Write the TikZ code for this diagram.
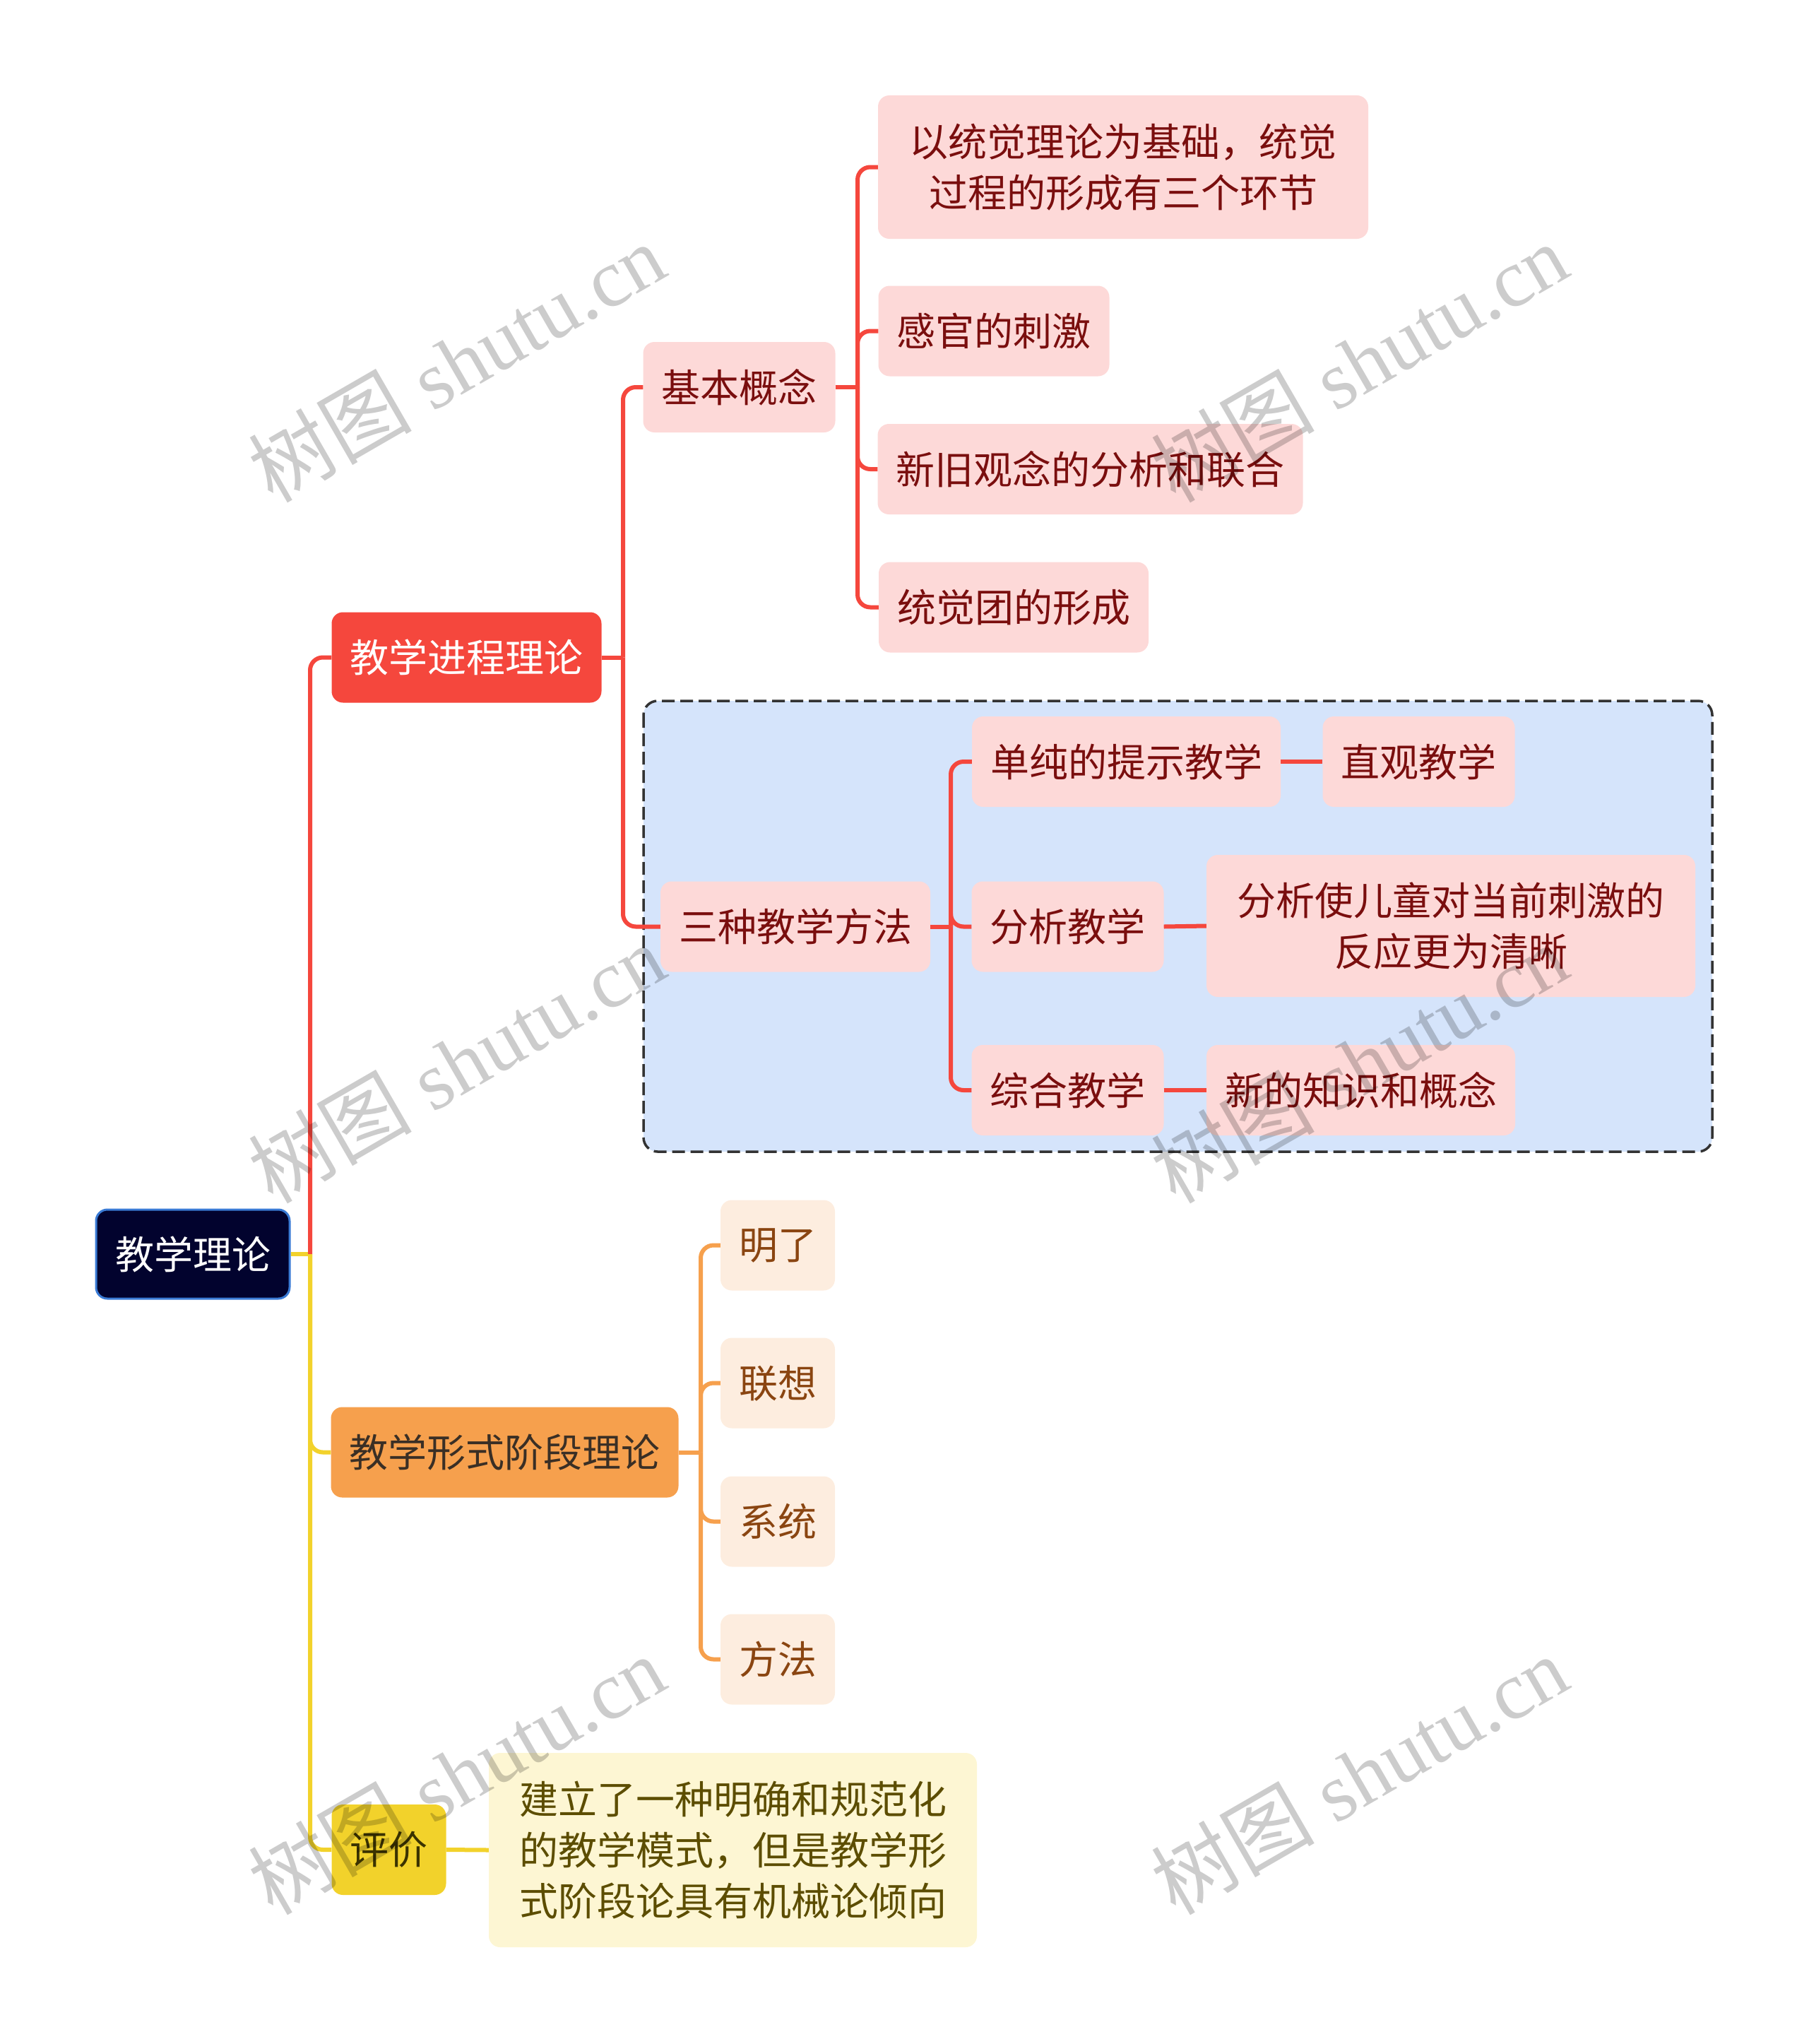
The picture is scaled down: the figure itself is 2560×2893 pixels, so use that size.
\documentclass[tikz,border=0pt]{standalone}
\usepackage{fontspec}
\setmainfont{Noto Sans CJK SC}
\newfontfamily\wmserif{Liberation Serif}
\definecolor{mainred}{HTML}{F5473D}
\definecolor{pinkfill}{HTML}{FDD9D8}
\definecolor{darkred}{HTML}{7A0E0E}
\definecolor{bluefill}{HTML}{D5E4FB}
\definecolor{rootfill}{HTML}{02032E}
\definecolor{rootedge}{HTML}{3A7BD5}
\definecolor{orangemain}{HTML}{F6A04D}
\definecolor{orangetext}{HTML}{3A2F25}
\definecolor{peachfill}{HTML}{FDEDDF}
\definecolor{browntext}{HTML}{8A4511}
\definecolor{yellowmain}{HTML}{F2D22B}
\definecolor{creamfill}{HTML}{FDF6D3}
\definecolor{olivetext}{HTML}{5C4D00}
\definecolor{darkolive}{HTML}{3B3300}
\newcommand{\nodefs}{\fontsize{55pt}{72pt}\selectfont}
\tikzset{
  basebox/.style={rounded corners=16pt, inner xsep=26pt, inner ysep=0pt,
    minimum height=128pt, font=\nodefs, align=center},
  pinkbox/.style={basebox, fill=pinkfill, text=darkred},
  peachbox/.style={basebox, fill=peachfill, text=browntext},
  rl/.style={draw=mainred, line width=6pt, rounded corners=18pt},
  ol/.style={draw=orangemain, line width=6pt, rounded corners=18pt},
  yl/.style={draw=yellowmain, line width=6pt, rounded corners=18pt},
  wm/.style={text=black, text opacity=0.2, font=\fontsize{116pt}{124pt}\selectfont, rotate=30, inner sep=0pt}
}
\begin{document}
\begin{tikzpicture}[x=1pt,y=-1pt]
\useasboundingbox (0,0) rectangle (2560,2893);

% dashed group box
\draw[fill=bluefill, draw=black!80, line width=3.5pt, dash pattern=on 18pt off 8pt, rounded corners=20pt]
  (911,992) rectangle (2424,1630);

% nodes
\node[basebox, fill=rootfill, draw=rootedge, line width=3pt, text=white, minimum width=274pt, minimum height=126pt] (root) at (273,1775) {教学理论};

\node[basebox, fill=mainred, text=white] (jc) at (660.5,930.5) {教学进程理论};
\node[pinkbox] (jb) at (1046.5,548) {基本概念};
\node[pinkbox, minimum width=694pt, minimum height=203pt] (a1) at (1590,236.5) {以统觉理论为基础，统觉\\过程的形成有三个环节};
\node[pinkbox] (a2) at (1407,468.5) {感官的刺激};
\node[pinkbox] (a3) at (1543.5,664) {新旧观念的分析和联合};
\node[pinkbox] (a4) at (1435,859.5) {统觉团的形成};

\node[pinkbox] (sz) at (1126,1311.5) {三种教学方法};
\node[pinkbox] (m1) at (1594.5,1078) {单纯的提示教学};
\node[pinkbox] (m1a) at (2008.5,1078) {直观教学};
\node[pinkbox] (m2) at (1511.5,1311.5) {分析教学};
\node[pinkbox, minimum width=692pt, minimum height=201pt] (m2a) at (2054,1310.5) {分析使儿童对当前刺激的\\反应更为清晰};
\node[pinkbox] (m3) at (1511.5,1543) {综合教学};
\node[pinkbox] (m3a) at (1926.5,1543) {新的知识和概念};

\node[basebox, fill=orangemain, text=orangetext] (xs) at (714.5,2055.5) {教学形式阶段理论};
\node[peachbox] (o1) at (1101,1762.5) {明了};
\node[peachbox] (o2) at (1101,1957.5) {联想};
\node[peachbox] (o3) at (1101,2153.5) {系统};
\node[peachbox] (o4) at (1101,2348.5) {方法};

\node[basebox, fill=yellowmain, text=darkolive] (pj) at (550.5,2618) {评价};
\node[basebox, fill=creamfill, text=olivetext, minimum width=691pt, minimum height=275pt] (pt) at (1037.5,2618.5)
  {建立了一种明确和规范化\\的教学模式，但是教学形\\式阶段论具有机械论倾向};

% connectors
\coordinate (s0) at (439,1775);
\draw[yl] (root.east) -- (s0);
\draw[rl] (s0) |- (jc.west);
\draw[yl] (s0) |- (xs.west);
\draw[yl] (s0) |- (pj.west);

\coordinate (s1) at (882,930.5);
\draw[rl] (jc.east) -- (s1);
\draw[rl] (s1) |- (jb.west);
\draw[rl] (s1) |- (sz.west);

\coordinate (s2) at (1214,548);
\draw[rl] (jb.east) -- (s2);
\foreach \c in {a1,a2,a3,a4} \draw[rl] (s2) |- (\c.west);

\coordinate (s3) at (1346,1311.5);
\draw[rl] (sz.east) -- (s3);
\foreach \c in {m1,m2,m3} \draw[rl] (s3) |- (\c.west);
\draw[rl] (m1.east) -- (m1a.west);
\draw[rl] (m2.east) -- (m2a.west);
\draw[rl] (m3.east) -- (m3a.west);

\coordinate (s4) at (992,2055.5);
\draw[ol] (xs.east) -- (s4);
\foreach \c in {o1,o2,o3,o4} \draw[ol] (s4) |- (\c.west);

\draw[yl] (pj.east) -- (pt.west);

% watermarks
\foreach \p/\n in {{(646,513)}/w1,{(1924,513)}/w2,{(646,1505)}/w3,{(1924,1505)}/w4,{(646,2512)}/w5,{(1924,2512)}/w6}
  \node[wm] (\n) at \p {树图{\wmserif\ shutu.cn}};
\end{tikzpicture}
\end{document}
